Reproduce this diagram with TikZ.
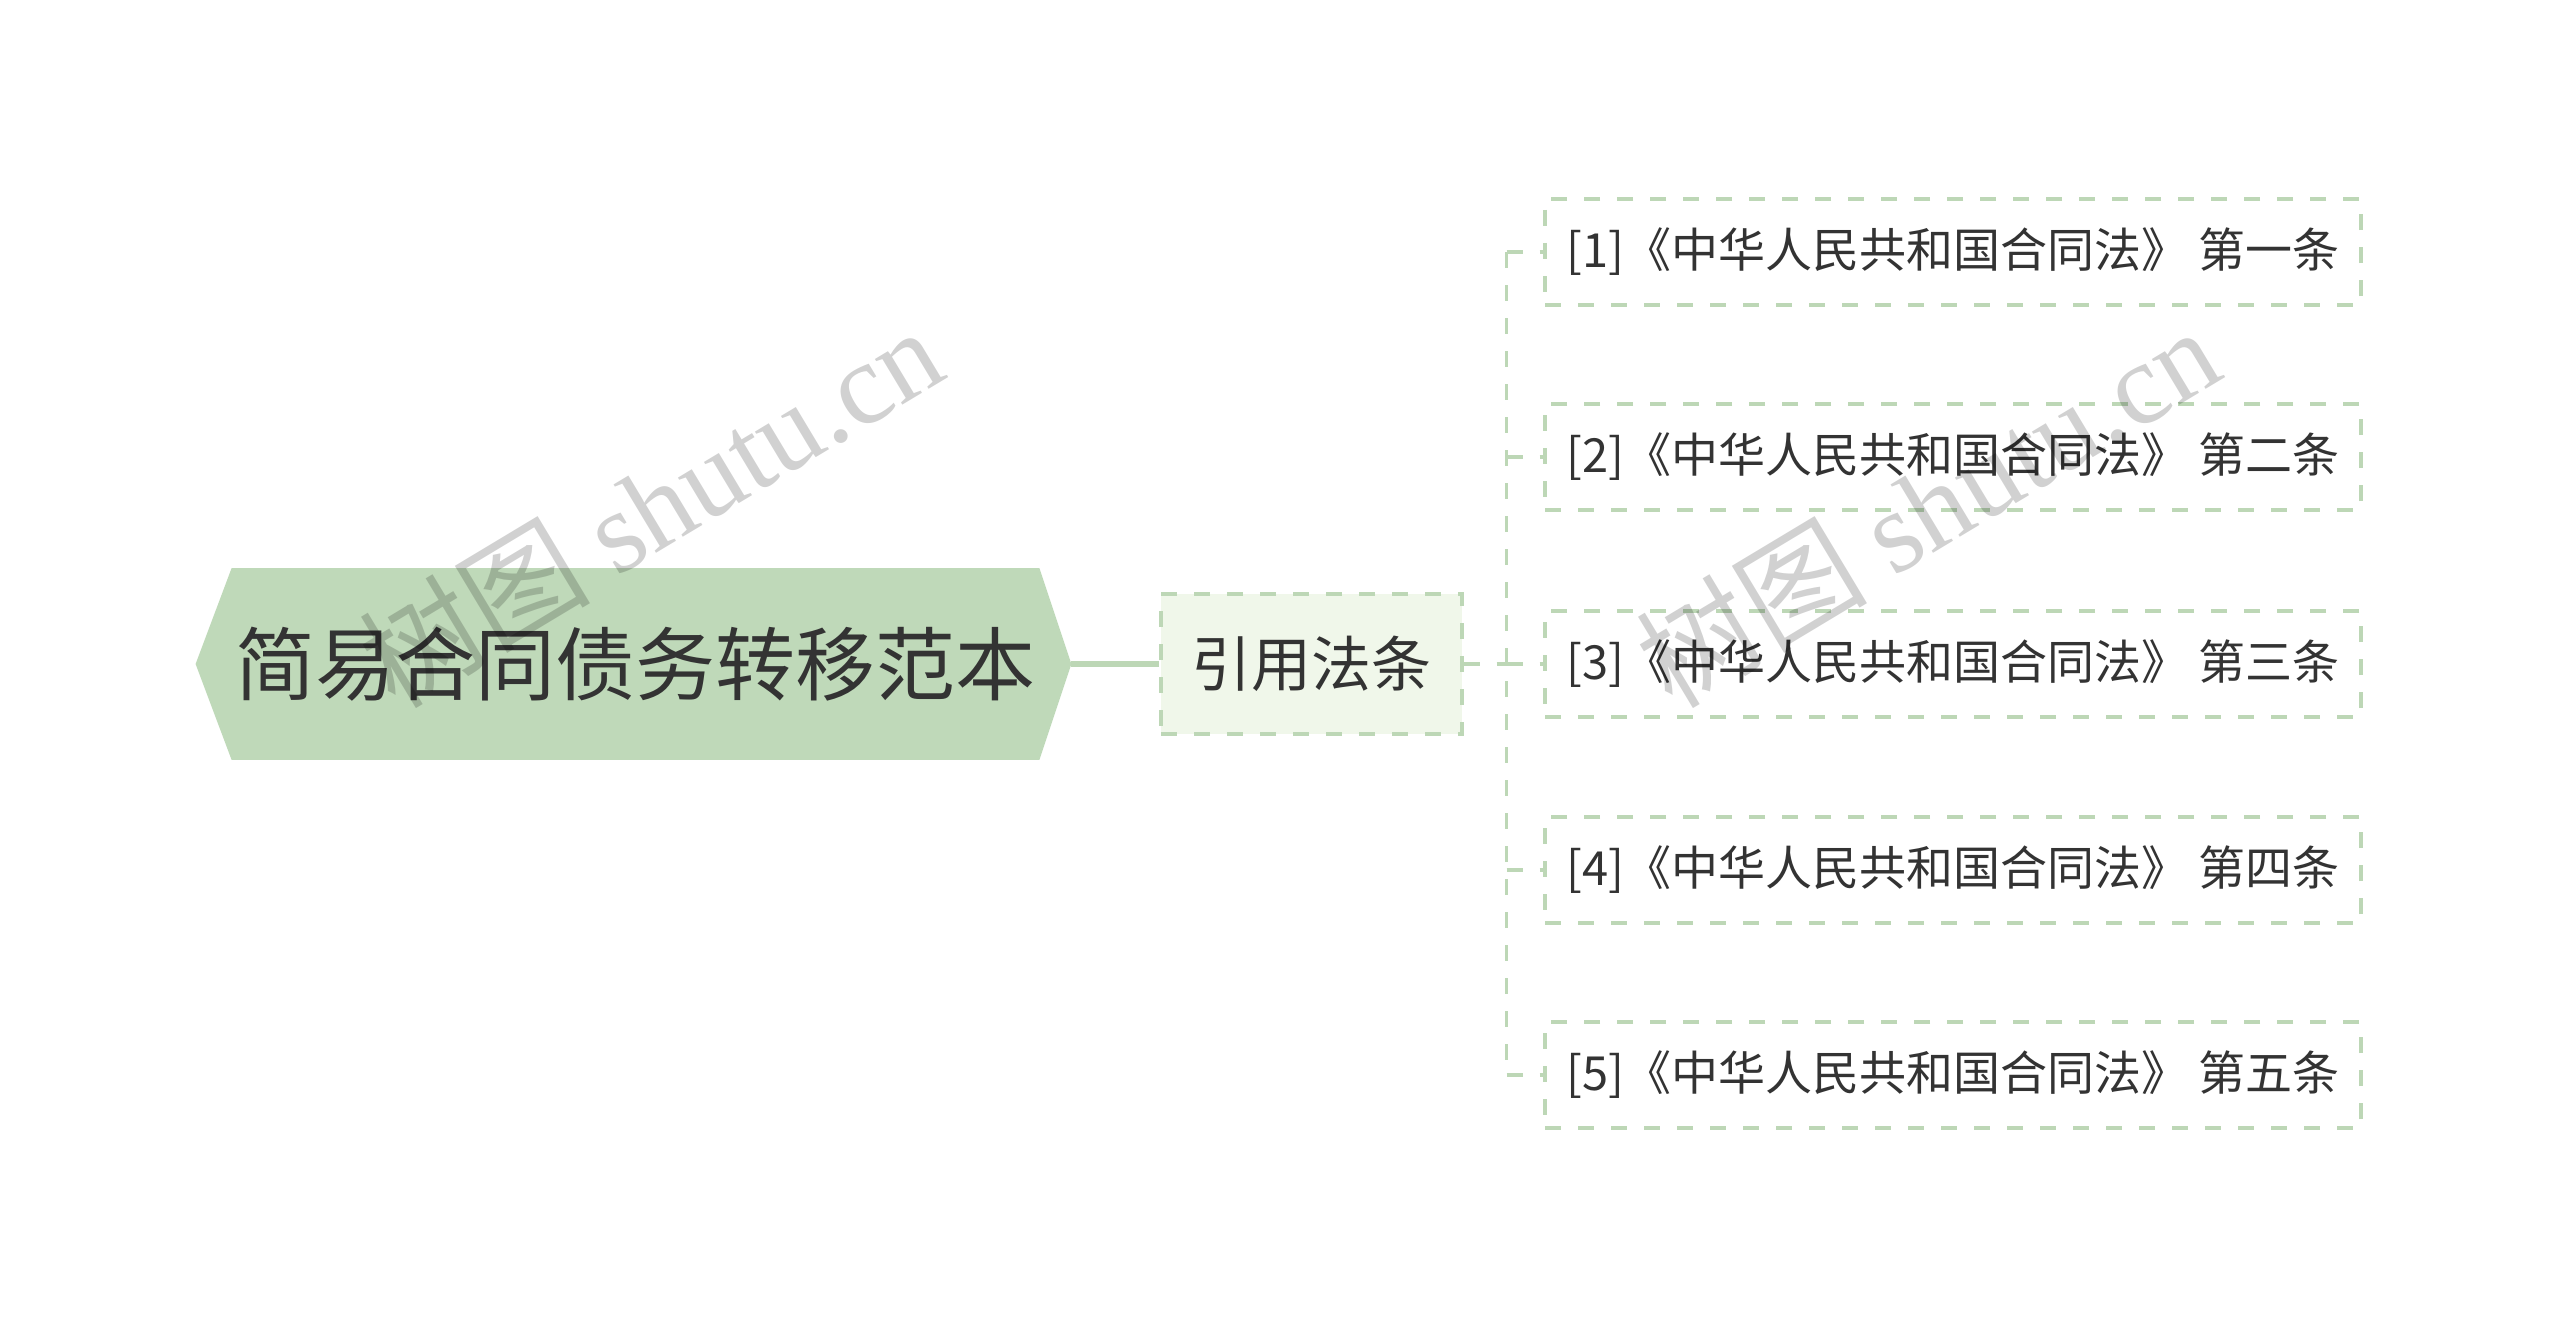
\documentclass[tikz,border=0pt]{standalone}
\usepackage{fontspec}
\setmainfont{Noto Sans CJK SC}
\newfontfamily\wmfont{Liberation Serif}
\usepackage{tikz}
\usetikzlibrary{calc,positioning,backgrounds}
\definecolor{leafgreen}{HTML}{BDD7B6}
\definecolor{rootfill}{HTML}{BFD9B9}
\definecolor{citefill}{HTML}{F0F7EA}
\definecolor{inkgray}{HTML}{333333}

\begin{document}
\begin{tikzpicture}[x=0.5pt,y=-0.5pt,
  every node/.append style={text=inkgray,inner sep=0pt},
  dashline/.style={draw=leafgreen,line width=1.6pt,dash pattern=on 8pt off 8.5pt}]
  \tikzstyle{rootbox} = [minimum width=403.5pt,minimum height=95.5pt,font=\fontsize{40}{40}\selectfont]
  \tikzstyle{citebox} = [dashline,fill=citefill,minimum width=150.5pt,minimum height=70pt,font=\fontsize{30}{30}\selectfont]
  \tikzstyle{lawbox} = [dashline,fill=white,minimum width=408pt,minimum height=53pt,font=\fontsize{23.5}{23.5}\selectfont]
  \tikzstyle{watermark} = [text=black,opacity=0.18,rotate=31,font=\fontsize{58}{58}\selectfont]
  \useasboundingbox (0,0) rectangle (2560,1327);
  % root
  \node (root) [rootbox] at (635.5,664) {简易合同债务转移范本};
  \coordinate (rootL) at ($(root.west)+(-36,0)$);
  \coordinate (rootR) at ($(root.east)+(32,0)$);
  \begin{scope}[on background layer]
    \fill[white] (0,0) rectangle (2560,1327);
    \fill[rootfill] (root.north west) -- (root.north east) -- (rootR)
      -- (root.south east) -- (root.south west) -- (rootL) -- cycle;
  \end{scope}
  % second level
  \node (cite) [citebox,right=44pt of rootR] {引用法条};
  \draw[draw=leafgreen,line width=3pt] (rootR) -- (cite.west);
  % articles
  \foreach \i/\num/\y in {1/一/252,2/二/457,3/三/664,4/四/870,5/五/1075}
    \node (law_\i) [lawbox] at (1953,\y) {[\i]《中华人民共和国合同法》 第\num 条};
  \coordinate (spine) at ($(cite.east)+(43,0)$);
  \draw[dashline] (cite.east) -- (spine);
  \draw[dashline] (spine |- law_1.west) -- (spine |- law_5.west);
  \foreach \i in {1,...,5}
    \draw[dashline] (spine |- law_\i.west) -- (law_\i.west);
  % watermarks
  \node (wm_1) [watermark] at (650,506) {树图 {\wmfont shutu.cn}};
  \node (wm_2) [watermark] at (1927,506) {树图 {\wmfont shutu.cn}};
\end{tikzpicture}
\end{document}
